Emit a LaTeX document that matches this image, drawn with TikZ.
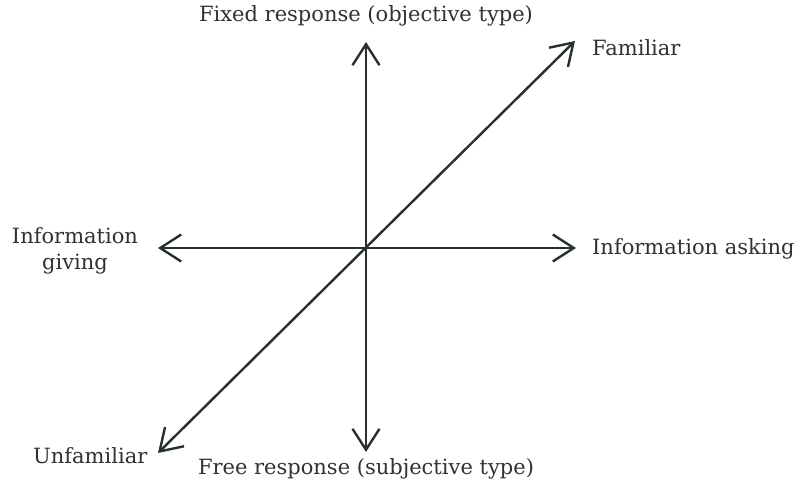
\documentclass[tikz,border=0pt]{standalone}
\usepackage{fontspec}
\setmainfont{DejaVu Serif}
\usetikzlibrary{arrows.meta}
\definecolor{ink}{RGB}{40,48,42}
\definecolor{txt}{RGB}{45,52,46}
\begin{document}
\begin{tikzpicture}[x=1pt,y=-1pt,
  axis/.style={draw=ink,line width=2.4pt,{Straight Barb[length=21pt,width=27pt,line width=2.4pt]}-{Straight Barb[length=21pt,width=27pt,line width=2.4pt]}},
  lbl/.style={text=txt,font=\fontsize{21}{26}\selectfont,inner sep=0pt}]
\useasboundingbox (0,0) rectangle (804,487);
\coordinate (top) at (366,42);
\coordinate (bot) at (366,452);
\coordinate (lft) at (158,248);
\coordinate (rgt) at (576,248);
\coordinate (ne) at (575,41);
\coordinate (sw) at (158,453);
\draw[axis] (bot) -- (top);
\draw[axis] (lft) -- (rgt);
\draw[axis] (sw) -- (ne);
\node[lbl] (fixed) at (366,16) {Fixed response (objective type)};
\node[lbl,anchor=west] (fam) at (592,48) {Familiar};
\node[lbl,anchor=west] (ask) at (592,249) {Information asking};
\node[lbl,align=center] (give) at (75,251) {Information\\giving};
\node[lbl,anchor=west] (unf) at (33,456) {Unfamiliar};
\node[lbl] (free) at (366,469) {Free response (subjective type)};
\end{tikzpicture}
\end{document}
